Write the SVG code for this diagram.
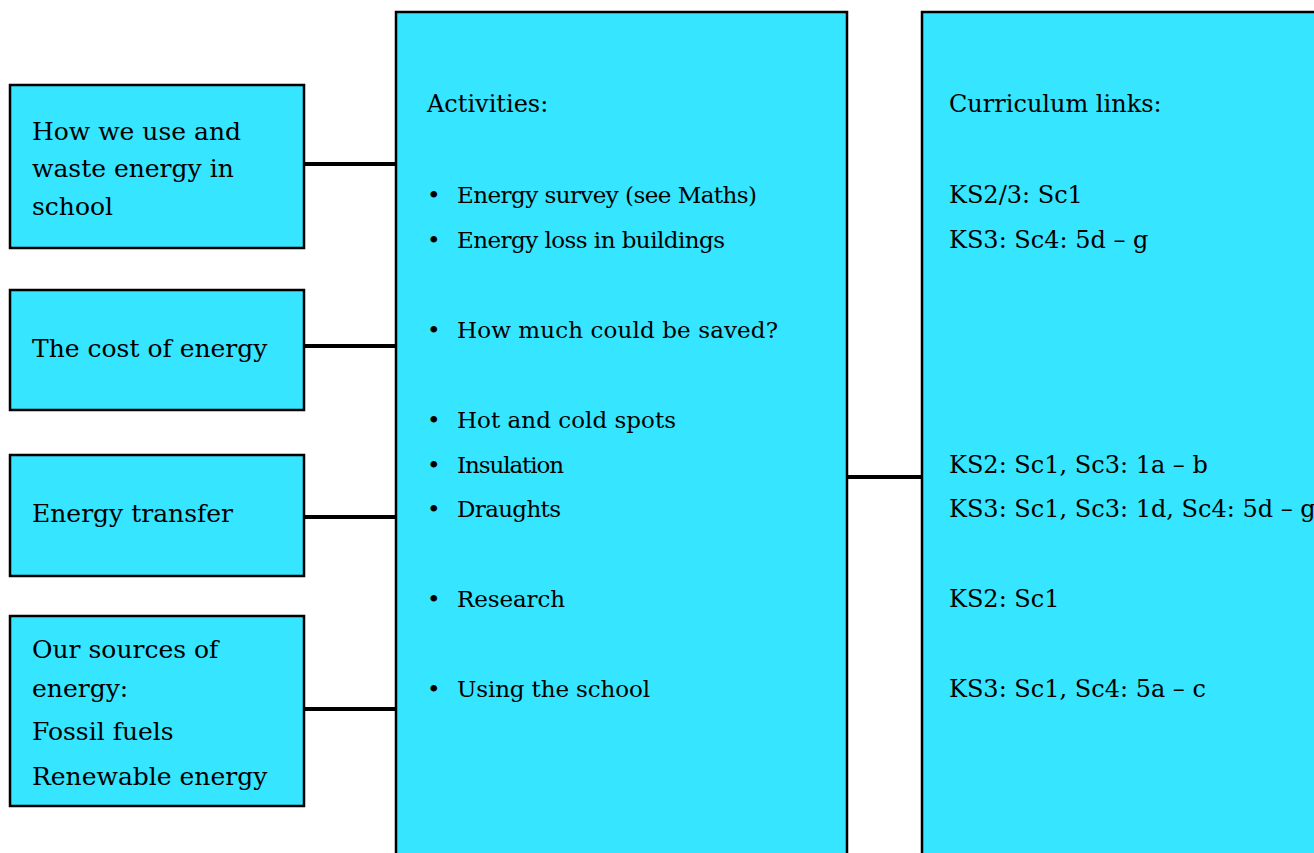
<svg xmlns="http://www.w3.org/2000/svg" width="1314" height="853" viewBox="0 0 1314 853">
<style>
.box{fill:#36E5FF;stroke:#000;stroke-width:2.5}
.t{font-family:"DejaVu Serif","Liberation Serif",serif;font-size:24px;fill:#000}
.l{font-size:25px}
.b{font-size:23px}
.c{stroke:#000;stroke-width:4;fill:none}
</style>
<rect width="1314" height="853" fill="#fff"/>
<g id="connectors">
<line class="c" x1="304" y1="164" x2="396" y2="164"/>
<line class="c" x1="304" y1="346" x2="396" y2="346"/>
<line class="c" x1="304" y1="517" x2="396" y2="517"/>
<line class="c" x1="304" y1="709" x2="396" y2="709"/>
<line class="c" x1="847" y1="477" x2="922" y2="477"/>
</g>
<g id="node-use">
<rect class="box" x="10" y="85" width="294" height="163"/>
<g class="t l">
<text x="32" y="140">How we use and</text>
<text x="32" y="177">waste energy in</text>
<text x="32" y="215">school</text>
</g>
</g>
<g id="node-cost">
<rect class="box" x="10" y="290" width="294" height="120"/>
<text class="t l" x="32" y="357">The cost of energy</text>
</g>
<g id="node-transfer">
<rect class="box" x="10" y="455" width="294" height="121"/>
<text class="t l" x="32" y="522">Energy transfer</text>
</g>
<g id="node-sources">
<rect class="box" x="10" y="616" width="294" height="190"/>
<g class="t l">
<text x="32" y="658">Our sources of</text>
<text x="32" y="697">energy:</text>
<text x="32" y="740">Fossil fuels</text>
<text x="32" y="785">Renewable energy</text>
</g>
</g>
<g id="node-activities">
<rect class="box" x="396" y="12" width="451" height="860"/>
<text class="t" x="427" y="112">Activities:</text>
<g class="t b">
<text x="427" y="203">•</text><text x="457" y="203" textLength="300">Energy survey (see Maths)</text>
<text x="427" y="248">•</text><text x="457" y="248" textLength="268">Energy loss in buildings</text>
<text x="427" y="338">•</text><text x="457" y="338" textLength="321">How much could be saved?</text>
<text x="427" y="428">•</text><text x="457" y="428" textLength="219">Hot and cold spots</text>
<text x="427" y="473">•</text><text x="457" y="473" textLength="107">Insulation</text>
<text x="427" y="517">•</text><text x="457" y="517" textLength="104">Draughts</text>
<text x="427" y="607">•</text><text x="457" y="607" textLength="108">Research</text>
<text x="427" y="697">•</text><text x="457" y="697" textLength="193">Using the school</text>
</g>
</g>
<g id="node-curriculum">
<rect class="box" x="922" y="12" width="420" height="860"/>
<g class="t">
<text x="949" y="112">Curriculum links:</text>
<text x="949" y="203">KS2/3: Sc1</text>
<text x="949" y="248">KS3: Sc4: 5d – g</text>
<text x="949" y="473">KS2: Sc1, Sc3: 1a – b</text>
<text x="949" y="517">KS3: Sc1, Sc3: 1d, Sc4: 5d – g</text>
<text x="949" y="607">KS2: Sc1</text>
<text x="949" y="697">KS3: Sc1, Sc4: 5a – c</text>
</g>
</g>
</svg>
